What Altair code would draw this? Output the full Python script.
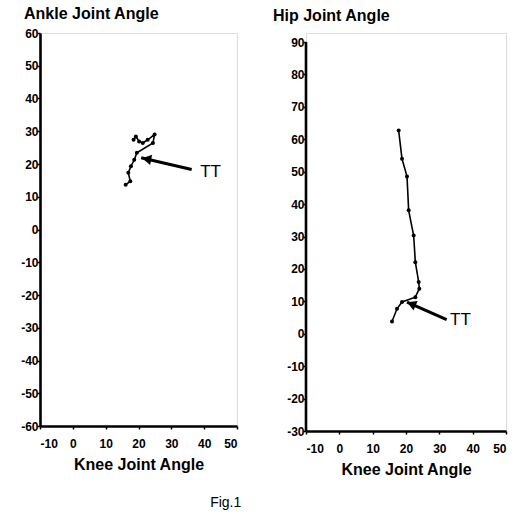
import altair as alt
import pandas as pd

FONT = "Liberation Sans"

# axis ticks
knee_ticks = [-10, 0, 10, 20, 30, 40, 50]
ankle_ticks = [-60, -50, -40, -30, -20, -10, 0, 10, 20, 30, 40, 50, 60]
hip_ticks = [-30, -20, -10, 0, 10, 20, 30, 40, 50, 60, 70, 80, 90]

# knee vs ankle trajectory
ankle_knee = [16.1, 17.5, 16.9, 17.7, 18.7, 19.5, 24.4, 24.9, 22.8, 21.3, 20.2, 19.2, 18.5]
ankle_angle = [13.7, 14.7, 17.3, 19.3, 21.3, 23.4, 26.4, 29.0, 27.4, 26.4, 26.9, 28.4, 27.4]

# knee vs hip trajectory
hip_knee = [17.8, 18.8, 20.3, 20.8, 22.3, 22.8, 23.8, 24.0, 22.8, 18.8, 17.3, 15.8]
hip_angle = [62.7, 54.0, 48.5, 38.1, 30.3, 22.1, 16.0, 13.9, 11.3, 9.8, 7.7, 3.8]

# "TT" annotations: arrow tail, arrow head, label position
ankle_tt = {"tail": (36.2, 18.3), "head": (20.8, 21.9), "label": (38.8, 17.6), "angle": 281}
hip_tt = {"tail": (32.2, 4.4), "head": (20.3, 9.8), "label": (33.2, 4.1), "angle": 293}

# plain hyphen-minus in tick labels
LABEL = "'' + datum.value"


def panel(kx, ky, ticks, y_domain, tt, title, title_dx, title_offset, width, height,
          draw_y_domain):
    trace = pd.DataFrame({"knee": kx, "angle": ky, "i": range(len(kx))})
    xs = alt.Scale(domain=[-10, 50], nice=False, zero=False)
    ys = alt.Scale(domain=y_domain, nice=False, zero=False)
    x_enc = alt.X("knee:Q", scale=xs, title="Knee Joint  Angle",
                  axis=alt.Axis(values=knee_ticks, tickCount=50, grid=False,
                                domainColor="black", domainWidth=2.6,
                                tickColor="black", tickSize=3, tickWidth=1.5,
                                labelPadding=9, labelFont=FONT, labelFontSize=12,
                                labelFontWeight="bold", labelColor="black",
                                labelOverlap=False, labelExpr=LABEL,
                                titleFont=FONT, titleFontSize=16,
                                titleFontWeight="bold", titleColor="black",
                                titlePadding=7))
    y_enc = alt.Y("angle:Q", scale=ys, title=None,
                  axis=alt.Axis(values=ticks, tickCount=50, grid=False,
                                domain=not draw_y_domain, domainColor="black",
                                domainWidth=2.6, tickColor="black", tickSize=3,
                                tickWidth=1.5, labelPadding=-1, labelFont=FONT,
                                labelFontSize=12, labelFontWeight="bold",
                                labelColor="black", labelOverlap=False,
                                labelExpr=LABEL))

    line = alt.Chart(trace).mark_line(color="black", strokeWidth=1.6).encode(
        x=x_enc, y=y_enc, order="i:Q")
    dots = alt.Chart(trace).mark_point(filled=True, color="black", size=16, opacity=1).encode(
        x="knee:Q", y="angle:Q")

    (tx, ty), (hx, hy) = tt["tail"], tt["head"]
    shaft = pd.DataFrame({"knee": [tx, hx], "angle": [ty, hy], "i": [0, 1]})
    arrow_line = alt.Chart(shaft).mark_line(color="black", strokeWidth=3).encode(
        x="knee:Q", y="angle:Q", order="i:Q")
    f = 0.11
    tip = pd.DataFrame({"knee": [hx + f * (tx - hx)], "angle": [hy + f * (ty - hy)]})
    arrow_head = alt.Chart(tip).mark_point(
        shape="triangle-up", filled=True, color="black", size=110, opacity=1,
        angle=tt["angle"]).encode(x="knee:Q", y="angle:Q")
    lab = pd.DataFrame({"knee": [tt["label"][0]], "angle": [tt["label"][1]], "t": ["TT"]})
    label = alt.Chart(lab).mark_text(
        align="left", baseline="middle", font=FONT, fontSize=17, color="black").encode(
        x="knee:Q", y="angle:Q", text="t:N")

    layers = [line, dots, arrow_line, arrow_head, label]
    if draw_y_domain:
        ax = pd.DataFrame({"knee": [-10], "angle": [min(ticks)], "angle2": [max(ticks)]})
        layers.append(alt.Chart(ax).mark_rule(color="black", strokeWidth=2.6).encode(
            x="knee:Q", y="angle:Q", y2="angle2:Q"))

    return alt.layer(*layers).properties(
        width=width,
        height=height,
        title=alt.Title(title, anchor="start", frame="group", dx=title_dx,
                        offset=title_offset, font=FONT, fontSize=16,
                        fontWeight="bold", color="black"),
    )


left = panel(ankle_knee, ankle_angle, ankle_ticks, [-60, 60], ankle_tt,
             "Ankle Joint Angle", -16, 5, 197, 393, False)
right = panel(hip_knee, hip_angle, hip_ticks, [-30, 92.8], hip_tt,
              "Hip Joint Angle", -33, 9, 200, 398, True)

chart = alt.hconcat(left, right, spacing=33).properties(
    padding={"left": 20, "top": 5, "right": 0, "bottom": 0},
    title=alt.Title("Fig.1", orient="bottom", anchor="middle", dx=-38, offset=18,
                    font=FONT, fontSize=14, fontWeight="normal", color="black"),
).configure_view(strokeWidth=0).configure(background="white")

chart.save("out.html", embed_options={"renderer": "svg", "actions": False})
